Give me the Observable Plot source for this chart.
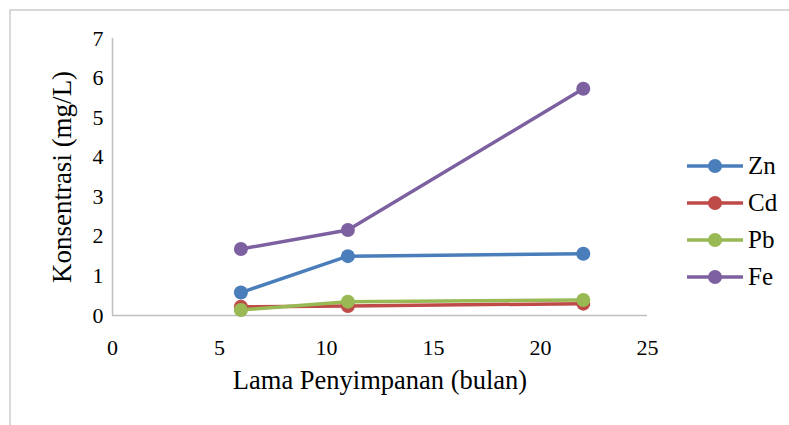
<!DOCTYPE html>
<html>
<head>
<meta charset="utf-8">
<script src="https://cdn.jsdelivr.net/npm/d3@7"></script>
<script src="https://cdn.jsdelivr.net/npm/@observablehq/plot@0.6"></script>
<style>
  html, body { margin: 0; padding: 0; background: #fff; }
  #wrap { position: relative; width: 789px; height: 425px; overflow: hidden; }
  #wrap, #wrap div, #wrap span, #wrap svg, #wrap svg text, #wrap svg g { font-family: "Liberation Serif", "Times New Roman", serif !important; }
  #frame { position: absolute; left: 9px; top: 9px; width: 790px; height: 430px; border: 2px solid #d9d9d9; box-sizing: border-box; }
  #chart { position: absolute; left: 0; top: 0; }
  #legend { position: absolute; left: 686px; top: 147px; }
  .item { display: flex; align-items: center; height: 37px; font-size: 25px; color: #000; }
  .item svg { margin-right: 2px; }
</style>
</head>
<body>
<div id="wrap">
  <div id="frame"></div>
  <div id="chart"></div>
  <div id="legend"></div>
</div>
<script>
const months = [6, 11, 22];
const seriesNames = ["Zn", "Cd", "Pb", "Fe"];
const znValues = [0.58, 1.50, 1.56];
const cdValues = [0.22, 0.24, 0.30];
const pbValues = [0.14, 0.35, 0.39];
const feValues = [1.68, 2.16, 5.73];
const colors = ["#4a7ebb", "#be4b48", "#98b954", "#7d60a0"];
const xTicks = [0, 5, 10, 15, 20, 25];
const yTicks = [0, 1, 2, 3, 4, 5, 6, 7];
const xTitle = "Lama Penyimpanan (bulan)";
const yTitle = "Konsentrasi (mg/L)";

const valuesBySeries = [znValues, cdValues, pbValues, feValues];
const data = [];
seriesNames.forEach((s, i) => months.forEach((m, j) => data.push({series: s, month: m, value: valuesBySeries[i][j]})));

const font = "Liberation Serif, Times New Roman, serif";
const chart = Plot.plot({
  width: 789,
  height: 425,
  marginLeft: 112,
  marginRight: 142,
  marginTop: 38,
  marginBottom: 110,
  style: {fontFamily: font, fontSize: "21px", color: "#000", background: "transparent"},
  x: {domain: [0, 25], ticks: xTicks, label: null},
  y: {domain: [0, 7], ticks: yTicks, label: null},
  color: {domain: seriesNames, range: colors},
  marks: [
    Plot.ruleY([0], {stroke: "#bfbfbf", strokeWidth: 1.5}),
    Plot.ruleX([0], {stroke: "#bfbfbf", strokeWidth: 1.5}),
    Plot.axisX({ticks: xTicks, tickFormat: d => String(d), tickSize: 0, tickPadding: 24, fontSize: 22, fontFamily: font, fill: "#000", label: null}),
    Plot.axisY({ticks: yTicks, tickFormat: d => String(d), tickSize: 0, tickPadding: 9, fontSize: 22, fontFamily: font, fill: "#000", label: null}),
    Plot.line(data, {x: "month", y: "value", z: "series", stroke: "series", strokeWidth: 3.5}),
    Plot.dot(data, {x: "month", y: "value", fill: "series", r: 7}),
    Plot.text([xTitle], {frameAnchor: "bottom", dy: 73, fontSize: 26.5, fontFamily: font, fill: "#000", text: d => d}),
    Plot.text([yTitle], {frameAnchor: "left", dx: -50, rotate: -90, textAnchor: "middle", fontSize: 27, fontFamily: font, fill: "#000", text: d => d})
  ]
});
document.getElementById("chart").appendChild(chart);

const legend = document.getElementById("legend");
seriesNames.forEach((s, i) => {
  const div = document.createElement("div");
  div.className = "item";
  div.innerHTML = `<svg width="60" height="16"><line x1="1" y1="8" x2="57" y2="8" stroke="${colors[i]}" stroke-width="3.5"/><circle cx="29" cy="8" r="7" fill="${colors[i]}"/></svg><span>${s}</span>`;
  legend.appendChild(div);
});
</script>
</body>
</html>
